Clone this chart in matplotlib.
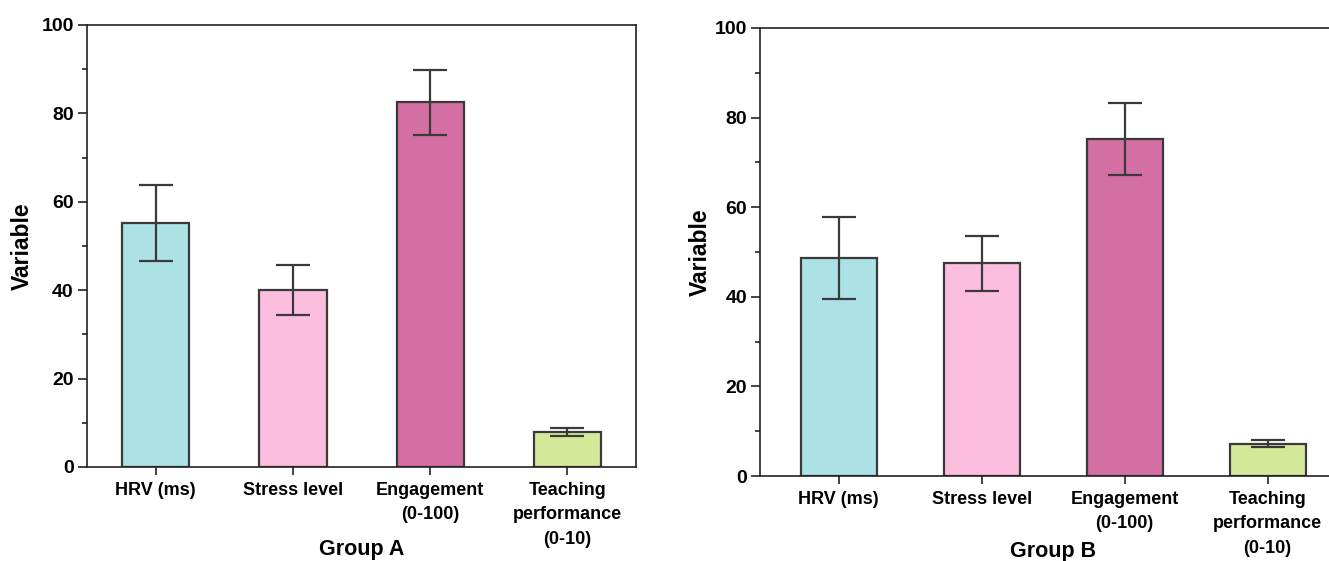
import matplotlib
matplotlib.use("Agg")
import matplotlib.pyplot as plt
from matplotlib.ticker import MultipleLocator

categories = ["HRV (ms)", "Stress level", "Engagement\n(0-100)", "Teaching\nperformance\n(0-10)"]
group_a_mean = [55.2, 40.0, 82.5, 8.0]
group_a_err = [8.6, 5.6, 7.3, 0.9]
group_b_mean = [48.7, 47.5, 75.2, 7.2]
group_b_err = [9.1, 6.1, 8.1, 0.8]
colors = ["#ACE1E5", "#FBBEDF", "#D46FA3", "#D5E99A"]
group_labels = ["Group A", "Group B"]

plt.rcParams['font.family'] = ['Liberation Sans', 'DejaVu Sans']
plt.rcParams['font.weight'] = 'bold'

fig = plt.figure(figsize=(13.29, 5.61), dpi=100)
ax1 = fig.add_axes([0.0655, 0.1676, 0.4131, 0.7879])
ax2 = fig.add_axes([0.5720, 0.1515, 0.4410, 0.7986])

edge = "#3a3a3a"
for ax, means, errs, lab, width, xl, xlab_y, ylab_x in [
    (ax1, group_a_mean, group_a_err, group_labels[0], 0.49, (-0.5, 3.5), -0.186, -0.118),
    (ax2, group_b_mean, group_b_err, group_labels[1], 0.53, (-0.55, 3.55), -0.168, -0.102),
]:
    x = list(range(len(categories)))
    ax.bar(x, means, width=width, color=colors, edgecolor=edge, linewidth=1.6, zorder=2)
    ax.errorbar(x, means, yerr=errs, fmt='none', ecolor=edge, elinewidth=1.6,
                capsize=12, capthick=1.6, zorder=3)
    ax.set_xlim(*xl)
    ax.set_ylim(0, 100)
    ax.yaxis.set_major_locator(MultipleLocator(20))
    ax.yaxis.set_minor_locator(MultipleLocator(10))
    ax.set_xticks(x)
    ax.set_xticklabels(categories, fontsize=13, fontweight='bold', linespacing=1.55)
    ax.tick_params(axis='x', which='major', direction='out', length=6, width=1.2,
                   pad=5, color='#222222')
    ax.tick_params(axis='y', which='major', direction='out', length=6.5, width=1.2,
                   labelsize=14, pad=3, color='#222222')
    ax.tick_params(axis='y', which='minor', direction='out', length=3.5, width=1.2, color='#222222')
    for lbl in ax.get_yticklabels():
        lbl.set_fontweight('bold')
    for s in ax.spines.values():
        s.set_linewidth(1.2)
        s.set_color('#222222')
    ax.set_ylabel("Variable", fontsize=16.5, fontweight='bold', va='center')
    ax.yaxis.set_label_coords(ylab_x, 0.5)
    ax.set_xlabel(lab, fontsize=15.5, fontweight='bold', va='center')
    ax.xaxis.set_label_coords(0.5, xlab_y)

fig.savefig("out.png", dpi=100)
